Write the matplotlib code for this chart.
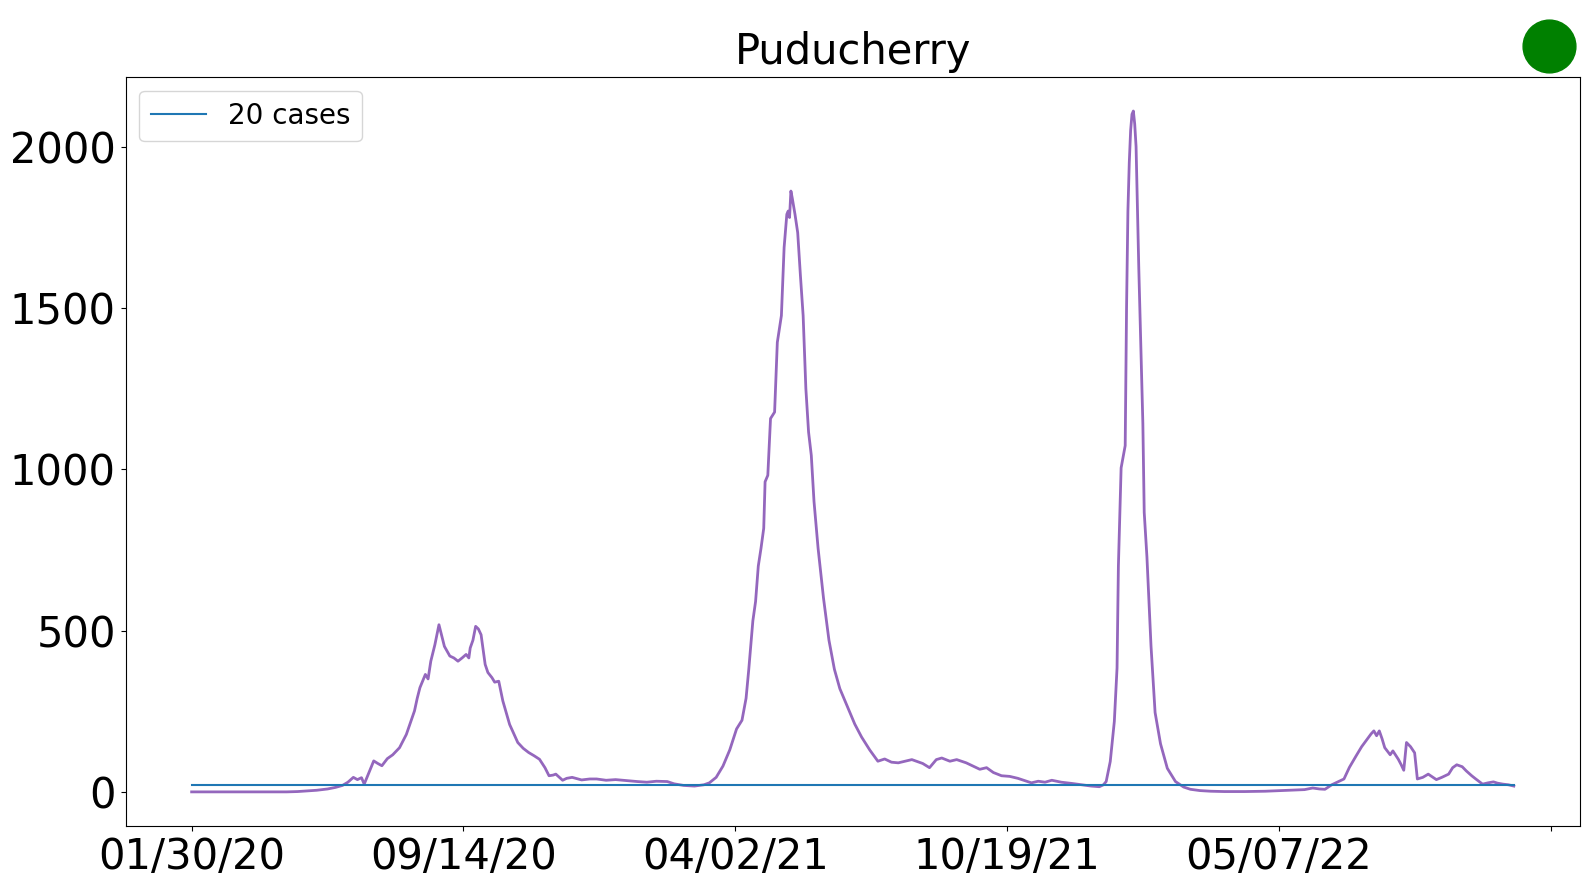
import numpy as np
import matplotlib
matplotlib.use("Agg")
import matplotlib.pyplot as plt

# daily new cases (7-day avg), x is the row index of the date column
day_index = [0, 20, 40, 60, 70, 78, 85, 92, 100, 106, 111, 115, 119, 122, 125, 127, 130, 134, 137, 140,
             144, 148, 153, 158, 161, 164, 166, 168, 172, 174, 176, 179, 182, 184, 186, 190, 193, 196, 199, 202,
             204, 205, 207, 209, 211, 213, 216, 218, 221, 223, 226, 229, 234, 240, 244, 248, 252, 256, 260, 263,
             266, 268, 273, 276, 280, 287, 293, 298, 305, 312, 320, 328, 335, 342, 350, 355, 362, 370, 377, 381,
             386, 391, 396, 401, 405, 408, 410, 413, 415, 417, 419, 421, 422, 424, 426, 429, 431, 434, 436, 438,
             439, 440, 441, 442, 444, 446, 448, 450, 452, 454, 456, 458, 461, 465, 469, 473, 477, 482, 488, 493,
             499, 505, 510, 515, 520, 525, 530, 538, 543, 548, 552, 558, 563, 570, 575, 580, 585, 590, 596, 602,
             608, 613, 618, 623, 628, 633, 640, 648, 655, 662, 668, 671, 673, 676, 679, 681, 682, 684, 686, 687,
             688, 689, 690, 691, 692, 693, 694, 695, 697, 700, 701, 703, 706, 709, 713, 718, 724, 730, 735, 742,
             750, 760, 775, 790, 801, 812, 819, 825, 830, 834, 839, 844, 848, 852, 857, 861, 865, 868, 870, 872,
             874, 876, 878, 882, 884, 888, 890, 892, 894, 897, 900, 902, 906, 910, 916, 920, 925, 928, 931, 935,
             938, 942, 945, 950, 954, 958, 961, 965, 969, 973]
cases = [0, 0, 0, 0, 0, 1, 3, 5, 9, 14, 20, 30, 45, 38, 44, 24, 55, 96, 88, 81,
         103, 115, 137, 178, 215, 251, 290, 323, 364, 350, 405, 456, 518, 485, 451, 421, 415, 405, 415, 426,
         415, 446, 470, 513, 505, 487, 395, 370, 354, 340, 343, 282, 209, 153, 135, 122, 112, 101, 75, 50,
         52, 55, 36, 42, 45, 37, 40, 40, 36, 38, 35, 32, 30, 33, 32, 25, 20, 18, 22, 28,
         45, 80, 130, 195, 222, 290, 380, 530, 590, 700, 755, 817, 961, 981, 1157, 1177, 1393, 1476, 1687, 1790,
         1800, 1780, 1862, 1840, 1790, 1733, 1600, 1476, 1250, 1115, 1043, 900, 755, 600, 470, 380, 320, 270, 210, 170,
         130, 95, 102, 92, 90, 95, 100, 88, 75, 100, 105, 95, 100, 90, 80, 70, 75, 60, 50, 48,
         42, 35, 28, 33, 30, 36, 30, 26, 22, 18, 16, 22, 32, 94, 218, 384, 700, 1004, 1050, 1073,
         1500, 1800, 1950, 2050, 2100, 2110, 2070, 2000, 1624, 1142, 866, 728, 452, 246, 149, 73, 32, 15, 8, 4,
         2, 1, 1, 2, 4, 6, 7, 12, 9, 8, 22, 32, 40, 76, 112, 140, 163, 180, 189, 174,
         189, 165, 137, 115, 127, 101, 85, 67, 153, 140, 121, 40, 45, 55, 38, 45, 55, 75, 84, 78,
         65, 50, 40, 24, 28, 31, 27, 24, 22, 18]
threshold = 20
tick_pos = [0, 200, 400, 600, 800, 1000]
tick_labels = ['01/30/20', '09/14/20', '04/02/21', '10/19/21', '05/07/22', '']

fig = plt.figure(figsize=(15.89, 8.9), dpi=100)
ax = fig.add_axes([0.079, 0.072, 0.9153, 0.8415])

x = np.array(day_index)
ax.plot(x, cases, color='tab:purple', linewidth=2)
ax.plot(x, np.full(len(x), threshold), color='tab:blue', linewidth=1.5, label='20 cases')

ax.set_xticks(tick_pos)
ax.set_xticklabels(tick_labels)
ax.set_yticks([0, 500, 1000, 1500, 2000])
ax.tick_params(labelsize=30)
ax.set_title('Puducherry', fontsize=30, pad=9)
ax.legend(loc='upper left', fontsize=20)

# status dot
ax.plot(0.979, 1.041, 'o', color='green', markersize=38, transform=ax.transAxes, clip_on=False)

fig.savefig('out.png', dpi=100)
